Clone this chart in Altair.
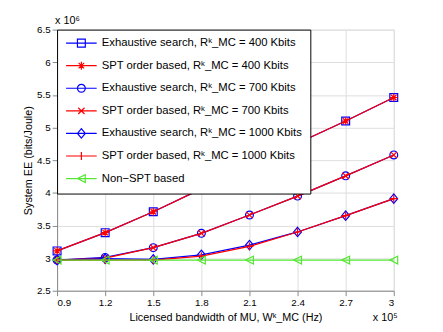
import altair as alt
import pandas as pd

# ---- data ----
x_vals = [0.9, 1.2, 1.5, 1.8, 2.1, 2.4, 2.7, 3.0]
ex400 = [3.11, 3.39, 3.71, 4.06, 4.41, 4.76, 5.10, 5.46]
spt400 = [3.11, 3.39, 3.71, 4.06, 4.41, 4.76, 5.10, 5.46]
ex700 = [2.97, 3.01, 3.16, 3.38, 3.66, 3.95, 4.26, 4.58]
spt700 = [2.97, 3.00, 3.16, 3.38, 3.66, 3.95, 4.26, 4.58]
ex1000 = [2.97, 2.99, 2.98, 3.05, 3.20, 3.40, 3.65, 3.91]
spt1000 = [2.97, 2.97, 2.97, 3.03, 3.18, 3.40, 3.65, 3.91]
non_spt = [2.97, 2.97, 2.97, 2.97, 2.97, 2.97, 2.97, 2.97]

series_names = [
    "Exhaustive search, Rᵏ_MC = 400 Kbits",
    "SPT order based, Rᵏ_MC = 400 Kbits",
    "Exhaustive search, Rᵏ_MC = 700 Kbits",
    "SPT order based, Rᵏ_MC = 700 Kbits",
    "Exhaustive search, Rᵏ_MC = 1000 Kbits",
    "SPT order based, Rᵏ_MC = 1000 Kbits",
    "Non−SPT based",
]
series_values = [ex400, spt400, ex700, spt700, ex1000, spt1000, non_spt]
y_ticks = [2.5, 3, 3.5, 4, 4.5, 5, 5.5, 6, 6.5]

BLUE = "#0000ff"
RED = "#ff0000"
GREEN = "#55e632"
colors = [BLUE, RED, BLUE, RED, BLUE, RED, GREEN]

SQUARE = "M-1,-1L1,-1L1,1L-1,1Z"
ASTER = "M-1,0L1,0M0,-1L0,1M-0.7,-0.7L0.7,0.7M-0.7,0.7L0.7,-0.7"
CIRCLE = "M1,0A1,1,0,1,1,-1,0A1,1,0,1,1,1,0Z"
XMARK = "M-0.8,-0.8L0.8,0.8M-0.8,0.8L0.8,-0.8"
DIAMOND = "M0,-1.2L1,0L0,1.2L-1,0Z"
PLUS = "M-1,0L1,0M0,-1L0,1"
TRILEFT = "M-1,0L1,-1L1,1Z"
markers = [SQUARE, ASTER, CIRCLE, XMARK, DIAMOND, PLUS, TRILEFT]
LINE = "M-3.9,0L3.9,0"
legend_paths = [LINE + m for m in markers]

rows = []
for name, vals in zip(series_names, series_values):
    for xv, yv in zip(x_vals, vals):
        rows.append({"series": name, "x": xv, "y": yv})
df = pd.DataFrame(rows)

FONT = "Liberation Sans"
W, H = 343, 266

xenc = alt.X("x:Q", scale=alt.Scale(domain=[0.9, 3.0], nice=False),
             axis=alt.Axis(values=x_vals, format="~g",
                           title="Licensed bandwidth of MU, Wᵏ_MC (Hz)",
                           titlePadding=4, titleFontWeight=400))
yenc = alt.Y("y:Q", scale=alt.Scale(domain=[2.5, 6.5], nice=False),
             axis=alt.Axis(values=y_ticks, format="~g",
                           title="System EE (bits/Joule)", titlePadding=3,
                           titleFontWeight=400))

layers = []
for name, c, m in zip(series_names, colors, markers):
    base = alt.Chart(df).transform_filter(alt.datum.series == name)
    layers.append(base.mark_line(color=c, strokeWidth=1.3).encode(x=xenc, y=yenc))
    layers.append(base.mark_point(shape=m, filled=False, color=c, size=64,
                                  strokeWidth=1.2, opacity=1).encode(x=xenc, y=yenc))

leg = dict(title=None, orient="top-left", offset=0, padding=8,
           strokeColor="black", fillColor="white", cornerRadius=0,
           symbolOffset=11, labelOffset=15, rowPadding=9,
           labelFont=FONT, labelFontSize=11.5, labelLimit=400,
           symbolSize=64, symbolStrokeWidth=1.2, labelColor="black")
legend_layer = alt.Chart(df).transform_filter("datum.y > 100").mark_point(
    filled=False, size=64, strokeWidth=1.2, opacity=1
).encode(
    x=xenc, y=yenc,
    color=alt.Color("series:N", scale=alt.Scale(domain=series_names, range=colors),
                    legend=alt.Legend(**leg)),
    shape=alt.Shape("series:N", scale=alt.Scale(domain=series_names, range=legend_paths),
                    legend=alt.Legend(**leg)),
)
layers.append(legend_layer)

ann = pd.DataFrame({"t": ["x 10⁶"]})
exp_y = alt.Chart(ann).mark_text(align="left", baseline="bottom", font=FONT,
                                 fontSize=11, color="black").encode(
    x=alt.value(-2), y=alt.value(-4), text="t:N")
ann5 = pd.DataFrame({"t": ["x 10⁵"]})
exp_x = alt.Chart(ann5).mark_text(align="right", baseline="middle", font=FONT,
                                  fontSize=11, color="black").encode(
    x=alt.value(W + 4), y=alt.value(H + 28), text="t:N")
layers += [exp_y, exp_x]

chart = alt.layer(*layers).properties(
    width=W, height=H,
    autosize=alt.AutoSizeParams(type="none"),
    padding={"left": 50, "top": 19, "right": 42, "bottom": 39},
).configure_view(
    stroke="#555555", strokeWidth=1
).configure_axis(
    labelFont=FONT, titleFont=FONT, labelFontSize=11, titleFontSize=11,
    titleFontWeight=400, labelColor="black", titleColor="#222222",
    domainColor="#555555", tickColor="#555555", tickSize=0, labelPadding=5,
    gridColor="#bbbbbb", gridDash=[1, 3], gridWidth=1, grid=True,
).configure(background="white")

chart.save("out.html", embed_options={"renderer": "svg", "actions": False})
